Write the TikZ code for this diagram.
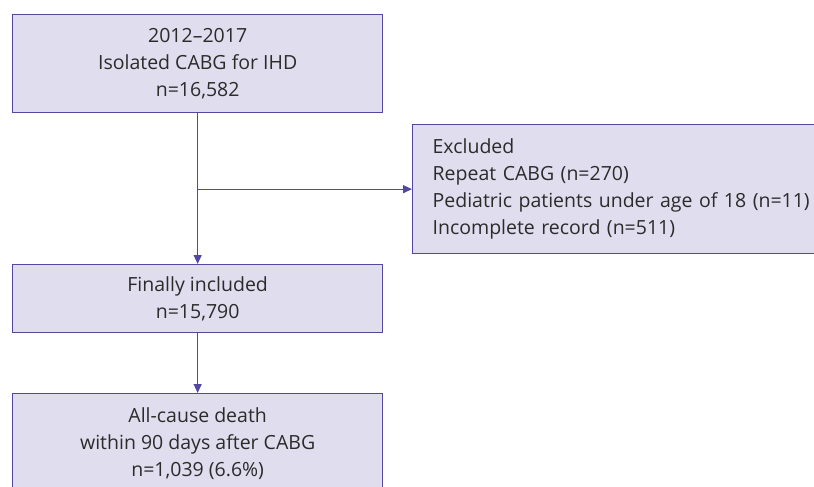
\documentclass[tikz,border=0pt]{standalone}
\usepackage{fontspec}
\setmainfont{Open Sans}
\usetikzlibrary{arrows.meta}
\definecolor{boxfill}{HTML}{E0DEEE}
\definecolor{boxline}{HTML}{5248A0}
\definecolor{txt}{HTML}{2B2B2B}
\begin{document}
\begin{tikzpicture}[x=1pt,y=-1pt,
  box/.style={draw=boxline, fill=boxfill, line width=1.3pt, text=txt,
    font=\fontsize{19.5}{27}\selectfont, inner sep=0pt, align=center, anchor=north west},
  arr/.style={draw=boxline, line width=1.3pt, -{Triangle[length=9pt,width=8pt]}}]
\useasboundingbox (0,0) rectangle (814,487);
\node[box, minimum width=370, minimum height=98] (a) at (12,14) {2012--2017\\Isolated CABG for IHD\\n=16,582};
\node[box, minimum width=420, minimum height=129, align=left, text width=420] (ex) at (412,124) {\hspace*{20pt}Excluded\\\hspace*{20pt}Repeat CABG (n=270)\\\hspace*{20pt}Pediatric patients under age of 18 (n=11)\\\hspace*{20pt}Incomplete record (n=511)};
\node[box, minimum width=370, minimum height=68] (b) at (12,264) {Finally included\\n=15,790};
\node[box, minimum width=370, minimum height=100] (c) at (12,393) {All-cause death\\within 90 days after CABG\\n=1,039 (6.6\%)};
\coordinate (j) at (a.south |- ex.west);
\draw[arr] (a.south) -- (b.north);
\draw[arr] (j) -- (ex.west);
\draw[arr] (b.south) -- (c.north);
\end{tikzpicture}
\end{document}
